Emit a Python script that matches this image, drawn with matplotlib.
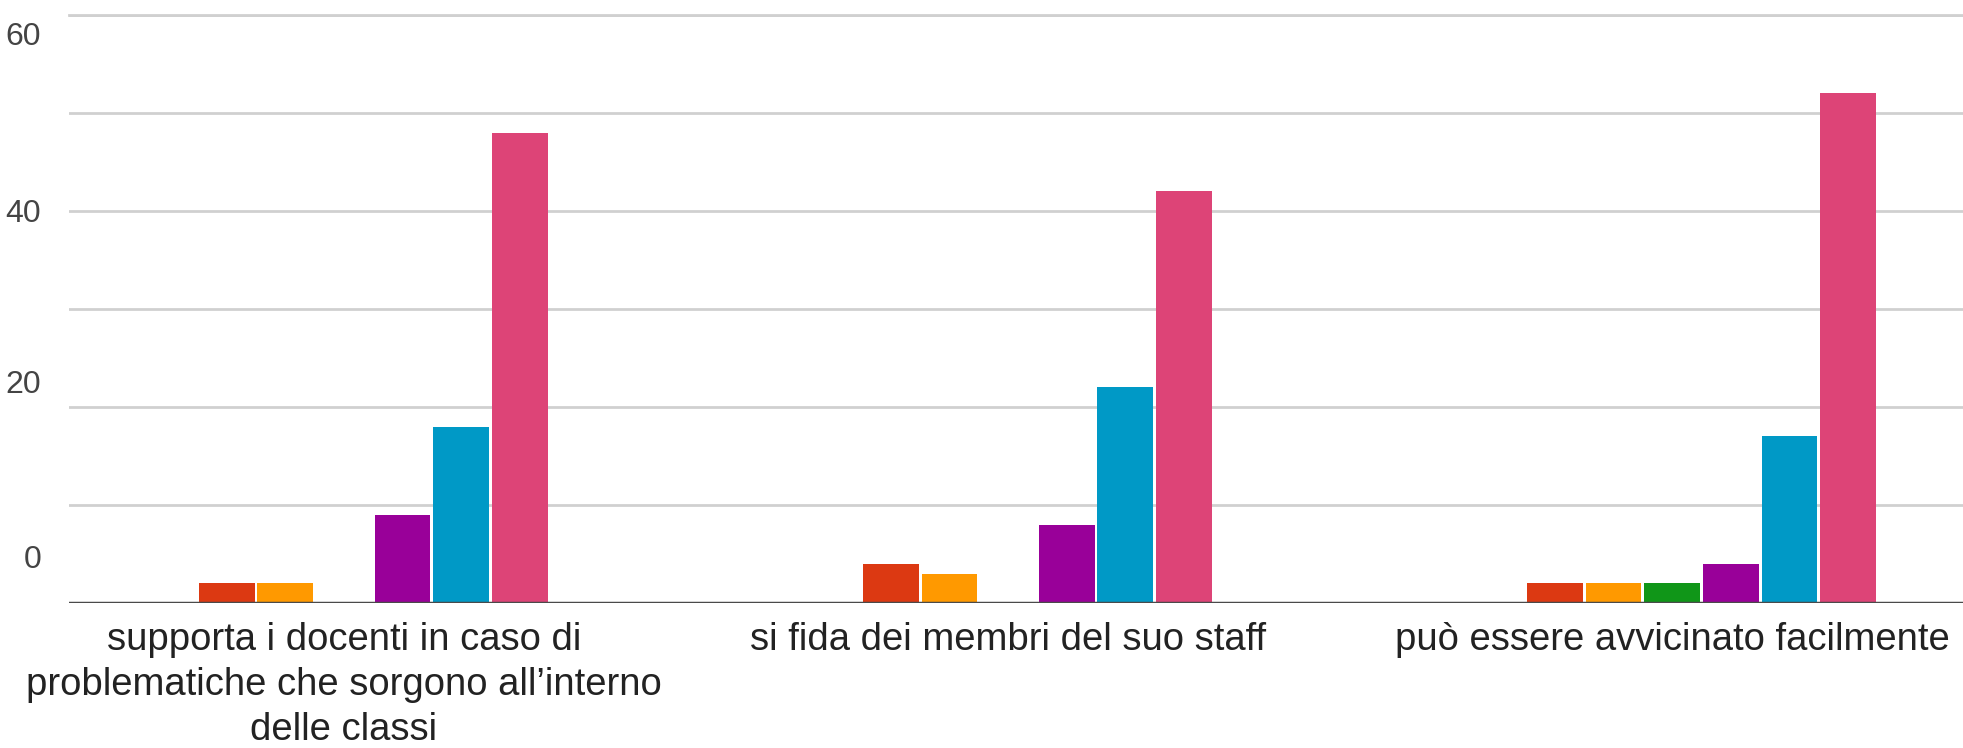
import numpy as np
import matplotlib
matplotlib.use("Agg")
import matplotlib.pyplot as plt

# questions (x categories)
categories = [
    "supporta i docenti in caso di\nproblematiche che sorgono all\u2019interno\ndelle classi",
    "si fida dei membri del suo staff",
    "può essere avvicinato facilmente",
]

# answer counts per scale value (1..7)
s1 = [0, 0, 0]
s2 = [2, 4, 2]
s3 = [2, 3, 2]
s4 = [0, 0, 2]
s5 = [9, 8, 4]
s6 = [18, 22, 17]
s7 = [48, 42, 52]
series = [s1, s2, s3, s4, s5, s6, s7]

colors = ["#3366cc", "#dc3912", "#ff9900", "#109618", "#990099", "#0099c6", "#dd4477"]

# y tick labels (they sit a bit off the grid in the screenshot)
ytick_labels = ["0", "20", "40", "60"]
ytick_pos = [4.7, 22.6, 40.1, 58.1]

plt.rcParams["font.family"] = ["Liberation Sans", "DejaVu Sans"]

fig = plt.figure(figsize=(19.63, 7.48), dpi=100)
ax = fig.add_axes([69 / 1963, (748 - 603) / 748, 1 - 69 / 1963, 588 / 748])

x = np.arange(len(categories))
group_w = 0.618
slot = group_w / len(series)
for i, (vals, c) in enumerate(zip(series, colors)):
    offs = (i - (len(series) - 1) / 2) * slot
    ax.bar(x + offs, vals, width=slot * 0.95, color=c, zorder=3)

ax.set_xlim(-0.414, 2.438)
ax.set_ylim(0, 60)

# grid lines every 10
ax.set_yticks(np.arange(0, 61, 10), minor=True)
ax.grid(True, which="minor", axis="y", color="#d0d0d0", linewidth=2, zorder=0)
ax.yaxis.set_tick_params(which="minor", length=0)
ax.set_yticks(ytick_pos, labels=ytick_labels)
ax.tick_params(axis="y", which="major", length=0, pad=20, labelsize=23, labelcolor="#444444")
ax.axhline(60, color="#d0d0d0", linewidth=2, clip_on=False, zorder=0)
ax.axhline(0, color="#4a4a4a", linewidth=2.5, zorder=4)

ax.set_xticks(x, labels=categories)
ax.tick_params(axis="x", length=0, pad=14, labelsize=27.5, labelcolor="#222222")
for lbl in ax.get_xticklabels():
    lbl.set_linespacing(1.32)

for sp in ax.spines.values():
    sp.set_visible(False)

fig.savefig("out.png", dpi=100, facecolor="white")
